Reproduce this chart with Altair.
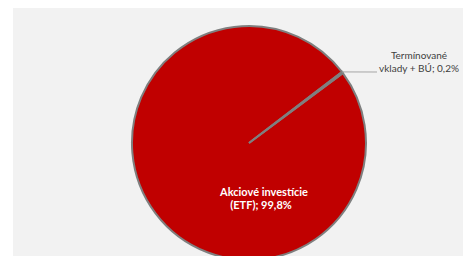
import math
import altair as alt
import pandas as pd

# --- data ---
categories = ["Akciové investície (ETF)", "Termínované vklady + BÚ"]
values = [99.8, 0.2]
slice_order = [1, 0]          # small slice drawn first (starts at the leader line)
slice_colors = ["#C00000", "#C00000"]
label_big = ["Akciové investície", "(ETF); 99,8%"]
label_small = ["Termínované", "vklady + BÚ; 0,2%"]

df = pd.DataFrame({"category": categories, "value": values, "ord": slice_order})

start = math.radians(52.6)
cx, cy, r = 241, 135, 117

one = pd.DataFrame({"a": [0]})

panel = alt.Chart(one).mark_rect(color="#F2F2F2").encode(
    x=alt.value(5), x2=alt.value(455), y=alt.value(0), y2=alt.value(260)
)

pie = alt.Chart(df).mark_arc(
    outerRadius=r, stroke="#7F7F7F", strokeWidth=2
).encode(
    theta=alt.Theta("value:Q", stack=True,
                    scale=alt.Scale(range=[start, start + 2 * math.pi])),
    order=alt.Order("ord:Q"),
    color=alt.Color("category:N",
                    scale=alt.Scale(domain=categories, range=slice_colors),
                    legend=None),
    x=alt.value(cx), y=alt.value(cy),
)

ex = cx + r * math.sin(start)
ey = cy - r * math.cos(start)
leader = alt.Chart(one).mark_rule(color="#A6A6A6", strokeWidth=1).encode(
    x=alt.value(ex), x2=alt.value(369), y=alt.value(ey), y2=alt.value(64)
)


def line_text(s, x, y, **kw):
    return alt.Chart(one).mark_text(
        text=s, font="Lato", align="center", baseline="middle", **kw
    ).encode(x=alt.value(x), y=alt.value(y))


big_kw = dict(fontSize=11, fontWeight="bold", color="white")
small_kw = dict(fontSize=10, color="#404040")

texts = [
    line_text(label_big[0], 256, 185, **big_kw),
    line_text(label_big[1], 253, 197.5, **big_kw),
    line_text(label_small[0], 411, 48, **small_kw),
    line_text(label_small[1], 411, 61, **small_kw),
]

chart = alt.layer(panel, pie, leader, *texts).properties(
    width=457, height=248,
    autosize=alt.AutoSizeParams(type="none"),
    padding=0,
    background="white",
).configure_view(stroke=None)

chart.save("out.html", embed_options={"renderer": "svg", "actions": False})
